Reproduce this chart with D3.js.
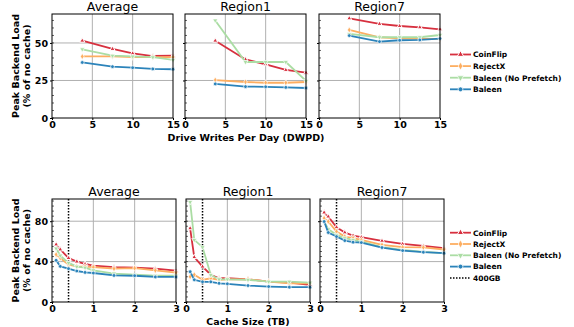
<!DOCTYPE html>
<html>
<head>
<meta charset="utf-8">
<script src="https://cdn.jsdelivr.net/npm/d3@7"></script>
<style>
  body { margin: 0; background: #fff; }
  svg { display: block; font-family: "DejaVu Sans", sans-serif; }
</style>
</head>
<body>
<svg id="chart" width="574" height="327"></svg>
<script>
// ---- data ----
const regions = ["Average", "Region1", "Region7"];
const seriesNames = ["CoinFlip", "RejectX", "Baleen (No Prefetch)", "Baleen"];
const seriesColors = ["#d7303f", "#fdae61", "#abdda4", "#2b83ba"];
const seriesMarkers = ["triangle-up", "diamond", "triangle-down", "circle"];

const dwpd = [3.75, 7.5, 10, 12.5, 15];
const dwpdTicks = [0, 5, 10, 15];
const dwpdYTicks = [0, 25, 50];
// [region][series][point]
const dwpdLoad = [
  [ [51.5, 46, 43, 41.3, 41.5],
    [41, 41, 40.5, 40.5, 40.5],
    [45.8, 41.5, 41, 40.5, 38.7],
    [37, 34.2, 33.5, 32.7, 32.5] ],
  [ [51.5, 39, 35.8, 32, 30.2],
    [25.3, 24, 23.5, 23.5, 24],
    [65, 37.3, 37.3, 37.3, 24.7],
    [22.7, 20.9, 20.8, 20.4, 20] ],
  [ [66.4, 62.7, 61.3, 60.4, 59.1],
    [58.7, 53.8, 53.1, 52.7, 52.7],
    [56, 53.8, 53.8, 53.8, 55.3],
    [54.9, 50.9, 51.8, 52, 52.9] ]
];

const cacheTB = [0.1, 0.2, 0.4, 0.6, 0.8, 1, 1.5, 2, 2.5, 3];
const cacheTicks = [0, 1, 2, 3];
const cacheYTicks = [0, 40, 80];
const cacheMark = 0.4; // 400GB
const cacheLoad = [
  [ [57, 52, 43.5, 40, 37.7, 36, 34.5, 34, 33, 31],
    [47, 43.5, 37, 35.2, 35, 34.5, 33, 33.5, 31.3, 29],
    [53, 46, 38.7, 35, 34, 31.4, 28.2, 27, 26, 26],
    [41.3, 35.3, 33, 30.7, 29.3, 28.7, 26.3, 26, 24.8, 24.8] ],
  [ [73, 44.4, 35, 27, 23.5, 23.5, 22.5, 20.2, 19.2, 17],
    [25, 27, 22, 23.5, 22, 22.5, 22.5, 20.2, 18.5, 18.5],
    [99, 61.5, 54.3, 26.8, 22.5, 22.5, 22, 20.2, 20.2, 19.2],
    [30, 22, 20, 20, 18.5, 18, 16.3, 15.3, 14.7, 14.7] ],
  [ [88.6, 84.6, 74, 68.8, 65.8, 64.2, 60.5, 57.5, 55.6, 53.3],
    [83, 79.7, 69.8, 64.8, 63.2, 61.5, 56.6, 54.3, 54, 52],
    [79.7, 72, 66.5, 63.2, 61.5, 59.8, 54.3, 51.6, 49.6, 48.3],
    [79.7, 68.8, 64.8, 60.8, 59.2, 58.8, 53.9, 50.9, 49.3, 48.3] ]
];

// ---- drawing ----
const svg = d3.select("#chart");
const symbolTypes = {
  "triangle-up": d3.symbolTriangle,
  "triangle-down": d3.symbolTriangle,
  "diamond": d3.symbolDiamond,
  "circle": d3.symbolCircle
};

function marker(g, type, x, y, color, size) {
  g.append("path")
    .attr("d", d3.symbol().type(symbolTypes[type]).size(size)())
    .attr("transform", "translate(" + x + "," + y + ")" + (type === "triangle-down" ? " rotate(180)" : ""))
    .attr("fill", color)
    .attr("stroke", "#fff")
    .attr("stroke-width", type === "triangle-up" ? 1 : 0.7);
}

function drawRow(opts) {
  opts.lefts.forEach(function (left, r) {
    const g = svg.append("g");
    const x = d3.scaleLinear().domain(opts.xDomain).range([left, left + opts.width]);
    const y = d3.scaleLinear().domain(opts.yDomain).range([opts.bottom, opts.top]);

    // grid
    g.selectAll(".vg").data(opts.xTicks.slice(1, -1)).enter().append("line")
      .attr("x1", d => x(d)).attr("x2", d => x(d))
      .attr("y1", opts.top).attr("y2", opts.bottom)
      .attr("stroke", "#b0b0b0").attr("stroke-width", 1);
    g.selectAll(".hg").data(opts.yTicks.slice(1)).enter().append("line")
      .attr("x1", left).attr("x2", left + opts.width)
      .attr("y1", d => y(d)).attr("y2", d => y(d))
      .attr("stroke", "#b0b0b0").attr("stroke-width", 1);

    // minor ticks (inside left spine)
    g.selectAll(".mt").data(d3.range(0, opts.yDomain[1], opts.minor)).enter().append("line")
      .attr("x1", left).attr("x2", left + 2)
      .attr("y1", d => y(d)).attr("y2", d => y(d))
      .attr("stroke", "#000").attr("stroke-width", 0.6);

    // reference line
    if (opts.vline != null) {
      g.append("line")
        .attr("x1", x(opts.vline)).attr("x2", x(opts.vline))
        .attr("y1", opts.top).attr("y2", opts.bottom)
        .attr("stroke", "#000").attr("stroke-width", 1.5)
        .attr("stroke-dasharray", "1.5,1.5");
    }

    // series
    const data = opts.values[r];
    data.forEach(function (vals, s) {
      const pts = opts.xs.map((xv, i) => [xv, vals[i]]);
      g.append("path")
        .datum(pts)
        .attr("fill", "none")
        .attr("stroke", seriesColors[s])
        .attr("stroke-width", 1.8)
        .attr("d", d3.line().x(d => x(d[0])).y(d => y(d[1])));
      pts.forEach(p => marker(g, seriesMarkers[s], x(p[0]), y(p[1]), seriesColors[s], 11));
    });

    // frame
    g.append("rect")
      .attr("x", left).attr("y", opts.top)
      .attr("width", opts.width).attr("height", opts.bottom - opts.top)
      .attr("fill", "none").attr("stroke", "#000").attr("stroke-width", 1);

    // x axis
    const xa = g.append("g")
      .attr("transform", "translate(0," + opts.bottom + ")")
      .call(d3.axisBottom(x).tickValues(opts.xTicks).tickSize(2).tickPadding(1).tickFormat(d3.format("d")));
    xa.select(".domain").remove();
    xa.selectAll("text").attr("font-size", 9.5).attr("font-weight", "bold").attr("fill", "#000")
      .attr("font-family", "DejaVu Sans");

    // y axis
    const ya = g.append("g")
      .attr("transform", "translate(" + left + ",0)")
      .call(d3.axisLeft(y).tickValues(opts.yTicks).tickSize(2).tickPadding(2)
        .tickFormat(r === 0 ? d3.format("d") : () => ""));
    ya.select(".domain").remove();
    ya.selectAll("text").attr("font-size", 9.5).attr("font-weight", "bold").attr("fill", "#000")
      .attr("font-family", "DejaVu Sans");

    // title
    g.append("text")
      .attr("x", left + opts.width / 2).attr("y", opts.top - 3)
      .attr("text-anchor", "middle").attr("font-size", 12.5)
      .text(regions[r]);
  });

  // y label
  const cy = (opts.top + opts.bottom) / 2;
  svg.append("text")
    .attr("transform", "translate(19," + cy + ") rotate(-90)")
    .attr("text-anchor", "middle").attr("font-size", 9.5).attr("font-weight", "bold")
    .text("Peak Backend Load");
  svg.append("text")
    .attr("transform", "translate(30," + cy + ") rotate(-90)")
    .attr("text-anchor", "middle").attr("font-size", 9.5).attr("font-weight", "bold")
    .text("(% of no cache)");

  // x label
  const first = opts.lefts[0], last = opts.lefts[opts.lefts.length - 1] + opts.width;
  svg.append("text")
    .attr("x", (first + last) / 2).attr("y", opts.bottom + 23)
    .attr("text-anchor", "middle").attr("font-size", 9.5).attr("font-weight", "bold")
    .text(opts.xLabel);

  // legend
  const lg = svg.append("g");
  const entries = seriesNames.map((n, i) => ({ name: n, i: i }));
  if (opts.vline != null) entries.push({ name: "400GB", i: -1 });
  entries.forEach(function (e, k) {
    const ly = opts.legendTop + k * opts.legendStep;
    if (e.i >= 0) {
      lg.append("line").attr("x1", 450).attr("x2", 471).attr("y1", ly).attr("y2", ly)
        .attr("stroke", seriesColors[e.i]).attr("stroke-width", 1.8);
      marker(lg, seriesMarkers[e.i], 460.5, ly, seriesColors[e.i], 18);
    } else {
      lg.append("line").attr("x1", 450).attr("x2", 471).attr("y1", ly).attr("y2", ly)
        .attr("stroke", "#000").attr("stroke-width", 1.5).attr("stroke-dasharray", "1.5,1.5");
    }
    lg.append("text").attr("x", 473).attr("y", ly + 2.8)
      .attr("font-size", 7.5).attr("font-weight", "bold").text(e.name);
  });
}

drawRow({
  lefts: [52, 185, 319], width: 121, top: 14, bottom: 118,
  xDomain: [0, 15], yDomain: [0, 69.3], xs: dwpd, values: dwpdLoad,
  xTicks: dwpdTicks, yTicks: dwpdYTicks, minor: 5, vline: null,
  xLabel: "Drive Writes Per Day (DWPD)", legendTop: 54.5, legendStep: 11.6
});

drawRow({
  lefts: [52, 186, 320], width: 124, top: 199, bottom: 302,
  xDomain: [0, 3], yDomain: [0, 102], xs: cacheTB, values: cacheLoad,
  xTicks: cacheTicks, yTicks: cacheYTicks, minor: 5, vline: cacheMark,
  xLabel: "Cache Size (TB)", legendTop: 232.7, legendStep: 11.3
});
</script>
</body>
</html>
